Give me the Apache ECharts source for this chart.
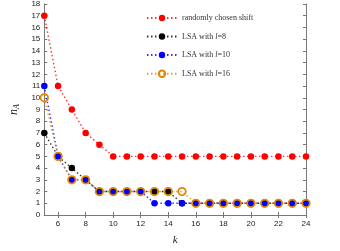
<!DOCTYPE html>
<html><head><meta charset="utf-8">
<script src="https://cdn.jsdelivr.net/npm/echarts@6/dist/echarts.min.js"></script>
<style>html,body{margin:0;padding:0;background:#fff}#c{width:340px;height:251px}</style>
</head><body><div id="c"></div>
<script>
var k = [5,6,7,8,9,10,11,12,13,14,15,16,17,18,19,20,21,22,23,24];
var randomShift = [17,11,9,7,6,5,5,5,5,5,5,5,5,5,5,5,5,5,5,5];
var lsa8  = [7,5,4,3,2,2,2,2,2,2,1,1,1,1,1,1,1,1,1,1];
var lsa10 = [11,5,3,3,2,2,2,2,1,1,1,1,1,1,1,1,1,1,1,1];
var lsa16 = [10,5,3,3,2,2,2,2,2,2,2,1,1,1,1,1,1,1,1,1];
var xTicks = [6,8,10,12,14,16,18,20,22,24];
var names = ['randomly chosen shift','LSA with l=8','LSA with l=10','LSA with l=16'];

function pairs(v){ return k.map(function(x,i){return [x,v[i]];}); }
var axisCol = '#777';
var chart = echarts.init(document.getElementById('c'), null, {renderer:'canvas'});
function mk(name, data, color, opts){
  var s = {
    name: name, type:'line', data: pairs(data), symbol:'circle', symbolSize: 6.5,
    lineStyle:{color: color, width:1.4, type:[1.5,2.5], opacity:0.8},
    itemStyle:{color: color}, animation:false
  };
  for (var key in opts) s[key]=opts[key];
  return s;
}
chart.setOption({
  animation:false,
  grid:{left:25, right:34, top:3, bottom:27, containLabel:false},
  legend:{
    orient:'vertical', left:141, top:9, itemWidth:30, itemHeight:8, itemGap:10.5,
    data:names,
    formatter:function(n){ return n.replace(' l=', ' {i|l}='); },
    textStyle:{fontFamily:'Liberation Serif', fontSize:8, color:'#333',
      rich:{i:{fontFamily:'Liberation Serif', fontStyle:'italic', fontSize:8, color:'#333'}}}
  },
  xAxis:[{
    type:'value', min:5, max:24, position:'bottom',
    name:'k', nameLocation:'middle', nameGap:20,
    nameTextStyle:{fontFamily:'Liberation Serif', fontStyle:'italic', fontSize:11, color:'#222'},
    axisLine:{show:true, lineStyle:{color:axisCol, width:1}},
    axisTick:{show:true, inside:true, length:3, customValues:xTicks, lineStyle:{color:axisCol}},
    axisLabel:{customValues:xTicks, fontSize:8, color:'#222', margin:5, fontFamily:'Liberation Sans'},
    splitLine:{show:false}
  },{
    type:'value', min:5, max:24, position:'top',
    axisLine:{show:true, lineStyle:{color:axisCol, width:1}},
    axisTick:{show:true, inside:true, length:3, customValues:xTicks, lineStyle:{color:axisCol}},
    axisLabel:{show:false}, splitLine:{show:false}
  }],
  yAxis:[{
    type:'value', min:0, max:18, interval:1, position:'left',
    name:'{n|n}{s|A}', nameLocation:'middle', nameGap:19, nameRotate:90,
    nameTextStyle:{rich:{
      n:{fontFamily:'Liberation Serif', fontStyle:'italic', fontSize:12, color:'#222'},
      s:{fontFamily:'Liberation Serif', fontStyle:'italic', fontSize:8, color:'#222', padding:[5,0,0,0]}
    }},
    axisLine:{show:true, lineStyle:{color:axisCol, width:1}},
    axisTick:{show:true, inside:true, length:3, lineStyle:{color:axisCol}},
    axisLabel:{fontSize:8, color:'#222', margin:4, fontFamily:'Liberation Sans'},
    splitLine:{show:false}
  },{
    type:'value', min:0, max:18, interval:1, position:'right',
    axisLine:{show:true, lineStyle:{color:axisCol, width:1}},
    axisTick:{show:true, inside:true, length:3, lineStyle:{color:axisCol}},
    axisLabel:{show:false}, splitLine:{show:false}
  }],
  series:[
    mk(names[0], randomShift, '#ff0000', {}),
    mk(names[1], lsa8, '#000000', {}),
    mk(names[2], lsa10, '#0000ff', {}),
    mk(names[3], lsa16, '#e08600', {
      symbolSize:7.5,
      itemStyle:{color:'rgba(255,255,255,0)', borderColor:'#e08600', borderWidth:1.8}
    })
  ]
});
</script></body></html>
